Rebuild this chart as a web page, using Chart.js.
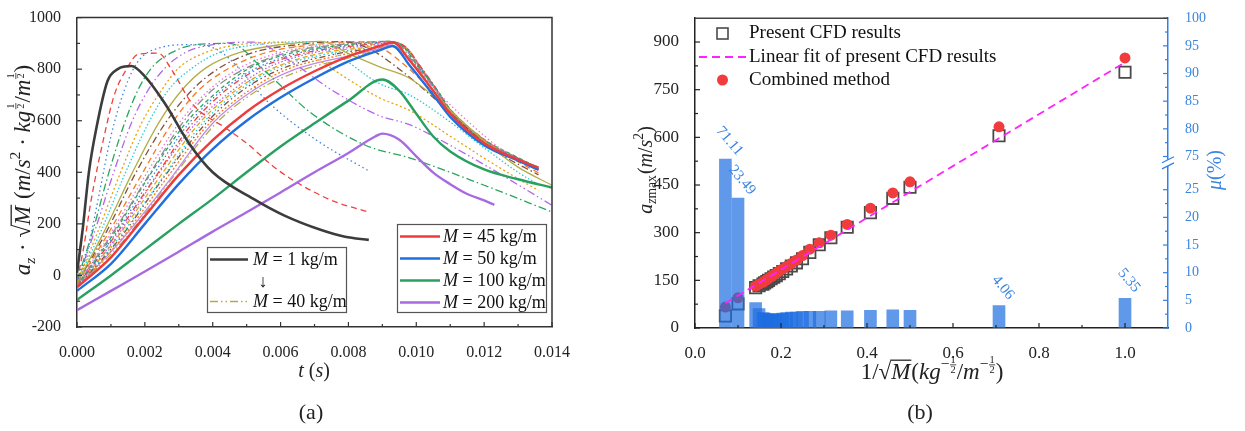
<!DOCTYPE html>
<html>
<head>
<meta charset="utf-8">
<script src="https://cdn.jsdelivr.net/npm/chart.js@4.4.0/dist/chart.umd.min.js"></script>
<style>
  html, body { margin: 0; padding: 0; background: #fff; }
  #wrap { position: relative; width: 1245px; height: 431px; overflow: hidden; }
  canvas { position: absolute; top: 0; }
  #chartA { left: 0; }
  #chartB { left: 620px; }
</style>
</head>
<body>
<div id="wrap">
  <canvas id="chartA" width="620" height="431"></canvas>
  <canvas id="chartB" width="625" height="431"></canvas>
</div>
<script>
// ---------- panel (a): a_z * sqrt(M) time histories, pairs of [t (s), value] ----------
const m1 = [[0,10],[0.00017,182],[0.00035,400],[0.00056,564],[0.0009,754],[0.0012,800],[0.0016,812],[0.002,772],[0.0026,665],[0.0033,513],[0.004,400],[0.0052,297],[0.0061,233],[0.0072,176],[0.0079,150],[0.0086,138]];
const m2 = [[0,-20],[0.0002,110],[0.0004,280],[0.0008,540],[0.0011,700],[0.00146,800],[0.0018,858],[0.0024,862],[0.0028,795],[0.0034,666],[0.0044,570],[0.005,513],[0.0059,411],[0.0074,297],[0.0086,245]];
const m4 = [[0,-30],[0.0003,90],[0.0006,280],[0.001,540],[0.0014,720],[0.0018,830],[0.0025,885],[0.0033,895],[0.0041,878],[0.0048,800],[0.0055,690],[0.007,530],[0.0086,405]];
const m5 = [[0,-20],[0.00047,175],[0.00093,395],[0.0014,590],[0.0018,720],[0.0022,805],[0.0028,865],[0.0035,895],[0.0045,900],[0.0056,785],[0.0069,630],[0.0085,505],[0.0098,456],[0.0119,355],[0.014,246]];
const m6 = [[0,-20],[0.00053,175],[0.00107,395],[0.0016,590],[0.0021,720],[0.0026,805],[0.0032,865],[0.004,895],[0.0052,905],[0.0063,830],[0.0075,720],[0.0089,620],[0.0098,585],[0.0105,540],[0.012,430],[0.014,272]];
const m8 = [[0,-25],[0.00063,175],[0.00127,395],[0.0019,590],[0.0025,720],[0.003,805],[0.0038,865],[0.0048,895],[0.006,905],[0.007,845],[0.008,760],[0.0089,690],[0.0098,640],[0.011,540],[0.012,455],[0.013,375],[0.0136,330]];
const m10 = [[0,-25],[0.0007,170],[0.0014,390],[0.0021,590],[0.0027,720],[0.0034,805],[0.0042,865],[0.0053,895],[0.0066,906],[0.0076,860],[0.0089,745],[0.0098,700],[0.011,595],[0.012,495],[0.013,400],[0.0136,352]];
const m12 = [[0,-30],[0.0008,170],[0.0016,390],[0.0024,590],[0.0031,720],[0.0038,805],[0.0048,865],[0.006,895],[0.0072,908],[0.008,860],[0.0089,810],[0.0098,765],[0.011,640],[0.012,520],[0.013,420],[0.014,350]];
const m14 = [[0,-30],[0.00087,170],[0.0017,390],[0.0026,590],[0.0034,720],[0.0042,805],[0.0052,865],[0.0065,895],[0.0078,907],[0.0086,880],[0.0095,800],[0.0105,690],[0.0115,570],[0.0125,470],[0.0136,390]];
const m16 = [[0,-32],[0.00093,165],[0.0019,390],[0.0028,590],[0.0036,720],[0.0045,805],[0.0056,865],[0.007,895],[0.0083,907],[0.009,880],[0.0098,800],[0.0105,710],[0.0115,580],[0.0125,480],[0.0136,398]];
const m18 = [[0,-34],[0.001,165],[0.002,385],[0.003,590],[0.0039,720],[0.0048,805],[0.006,865],[0.0075,895],[0.0088,907],[0.0093,890],[0.0099,820],[0.0106,715],[0.0115,600],[0.0125,490],[0.0136,405]];
const m20 = [[0,-36],[0.00103,160],[0.0021,385],[0.0031,590],[0.004,720],[0.005,805],[0.0062,865],[0.0077,895],[0.0091,908],[0.0095,895],[0.0099,830],[0.0105,730],[0.011,640],[0.012,525],[0.013,455],[0.0136,420]];
const m22 = [[0,-38],[0.00107,160],[0.0021,380],[0.0032,590],[0.0042,720],[0.0051,805],[0.0064,865],[0.008,895],[0.0092,908],[0.0096,890],[0.01,820],[0.0106,722],[0.011,645],[0.012,528],[0.013,457],[0.0136,418]];
const m24 = [[0,-40],[0.0011,155],[0.0022,380],[0.0033,590],[0.0043,720],[0.0053,805],[0.0066,865],[0.0082,895],[0.0092,907],[0.0096,888],[0.01,818],[0.0106,720],[0.011,642],[0.012,525],[0.013,455],[0.0136,416]];
const m26 = [[0,-40],[0.00113,155],[0.0023,380],[0.0034,590],[0.0044,720],[0.0054,805],[0.0068,865],[0.0085,895],[0.0093,906],[0.0097,885],[0.0101,815],[0.0106,722],[0.011,643],[0.012,526],[0.013,454],[0.0136,414]];
const m28 = [[0,-42],[0.00117,150],[0.0023,375],[0.0035,590],[0.0046,720],[0.0056,805],[0.007,865],[0.0087,893],[0.0093,905],[0.0097,884],[0.0101,814],[0.0106,720],[0.011,640],[0.012,524],[0.013,453],[0.0136,413]];
const m30 = [[0,-42],[0.0012,150],[0.0024,375],[0.0036,590],[0.0047,720],[0.0058,805],[0.0072,862],[0.0088,890],[0.0093,904],[0.0097,883],[0.0101,813],[0.0106,719],[0.011,639],[0.012,523],[0.013,452],[0.0136,412]];
const m32 = [[0,-44],[0.00123,145],[0.0025,375],[0.0037,590],[0.0048,720],[0.0059,805],[0.0074,860],[0.0088,888],[0.0093,903],[0.0097,882],[0.0101,812],[0.0106,718],[0.011,638],[0.012,522],[0.013,451],[0.0136,411]];
const m34 = [[0,-44],[0.00127,145],[0.0025,370],[0.0038,590],[0.0049,720],[0.0061,805],[0.0076,858],[0.0089,887],[0.0093,902],[0.0097,881],[0.0101,811],[0.0106,717],[0.011,637],[0.012,521],[0.013,450],[0.0136,410]];
const m36 = [[0,-45],[0.0013,140],[0.0026,370],[0.0039,590],[0.0051,720],[0.0062,800],[0.0078,855],[0.0089,885],[0.0093,901],[0.0097,880],[0.0101,810],[0.0106,716],[0.011,636],[0.012,520],[0.013,449],[0.0136,409]];
const m38 = [[0,-46],[0.00133,140],[0.0027,365],[0.004,590],[0.0052,718],[0.0064,798],[0.008,852],[0.009,884],[0.0093,900],[0.0097,879],[0.0101,809],[0.0106,715],[0.011,635],[0.012,519],[0.013,448],[0.0136,408]];
const m40 = [[0,-47],[0.00137,135],[0.0027,360],[0.0041,590],[0.0053,716],[0.0066,795],[0.0082,850],[0.009,882],[0.0093,898],[0.0097,878],[0.0101,808],[0.0106,714],[0.011,634],[0.012,518],[0.013,447],[0.0136,407]];
const m45 = [[0,-46],[0.001,70],[0.002,230],[0.003,390],[0.004,525],[0.005,635],[0.006,722],[0.007,792],[0.008,850],[0.009,893],[0.0093,905],[0.0098,835],[0.0105,716],[0.011,627],[0.012,513],[0.013,449],[0.0136,418]];
const m50 = [[0,-60],[0.001,45],[0.002,200],[0.003,355],[0.004,490],[0.005,600],[0.006,690],[0.007,765],[0.008,830],[0.009,877],[0.0093,890],[0.0098,815],[0.0105,700],[0.011,615],[0.012,505],[0.013,445],[0.0136,410]];
const m100 = [[0,-95],[0.001,0],[0.002,100],[0.003,200],[0.004,297],[0.005,400],[0.006,500],[0.007,590],[0.008,678],[0.009,760],[0.0095,716],[0.01,627],[0.0105,539],[0.011,481],[0.012,411],[0.013,373],[0.014,341]];
const m200 = [[0,-135],[0.001,-60],[0.002,15],[0.003,92],[0.004,170],[0.005,245],[0.006,322],[0.007,400],[0.008,475],[0.0088,540],[0.009,550],[0.0095,526],[0.01,462],[0.0105,399],[0.011,354],[0.0115,316],[0.012,291],[0.0123,274]];

const fanSeries = [m1, m2, m4, m5, m6, m8, m10, m12, m14, m16, m18, m20, m22, m24, m26, m28, m30, m32, m34, m36, m38, m40];
const fanColors = ['#3c3c3c','#f0413c','#3d82e0','#2aa65c','#b565ea','#e6a310','#20d0dc','#b3ad45','#805040','#f57c20','#e87ad4',
                   '#8c8c8c','#2aa65c','#3d82e0','#f0413c','#b565ea','#e6a310','#20d0dc','#805040','#f57c20','#c08be8','#b3ad45'];
const fanDashes = [[], [6,4], [1.5,3], [8,3,1.5,3], [8,3,1.5,3,1.5,3], [2,2.5], [1.5,2], [], [7,3,1.5,3], [6,4], [1.5,2.5],
                   [8,3,1.5,3], [4,3], [1.5,2.5], [6,3,1.5,3], [1.5,2], [5,3], [1.5,2.5], [6,3,1.5,3,1.5,3], [2,2], [], [8,3,1.5,3,1.5,3]];
const bigSeries = [m45, m50, m100, m200];
const bigLabels = ['45', '50', '100', '200'];
const bigColors = ['#ee3b3b', '#1f6fe0', '#27a060', '#a86ae0'];

const aXTicks = [0, 0.002, 0.004, 0.006, 0.008, 0.010, 0.012, 0.014];
const aXMinor = [0.001, 0.003, 0.005, 0.007, 0.009, 0.011, 0.013];
const aYTicks = [-200, 0, 200, 400, 600, 800, 1000];
const aYMinor = [-100, 100, 300, 500, 700, 900];

// ---------- panel (b): peak acceleration vs 1/sqrt(M) ----------
const invSqrtM = [0.0707,0.1,0.141,0.149,0.158,0.162,0.167,0.171,0.177,0.183,0.189,0.196,0.204,0.213,0.224,0.236,0.25,0.267,0.289,0.316,0.354,0.408,0.46,0.5,0.707,1.0];
const cfdMax = [38,76,127,133,138,142,146,150,155,160,165,171,178,186,195,205,218,238,262,284,317,363,408,443,605,805];
const combinedMax = [66,95,132,138,144,148,152,156,161,167,173,179,186,194,203,214,228,248,268,292,326,377,425,460,633,850];
const muPct = [71.11,23.49,4.6,3.5,2.8,2.7,2.6,2.5,2.5,2.5,2.5,2.6,2.7,2.8,2.9,2.9,3.0,3.0,3.0,3.1,3.1,3.2,3.3,3.2,4.06,5.35];
const muLabelIdx = [0, 1, 24, 25];
const fitX = [0.0707, 1.0];
const fitY = [78, 836];

const bXTicks = [0, 0.2, 0.4, 0.6, 0.8, 1.0];
const bXMinor = [0.1, 0.3, 0.5, 0.7, 0.9];
const bYTicks = [0, 150, 300, 450, 600, 750, 900];
const bYMinor = [75, 225, 375, 525, 675, 825];
const muTicks = [0, 5, 10, 15, 20, 25, 75, 80, 85, 90, 95, 100];
const muMinor = [2.5, 7.5, 12.5, 17.5, 22.5, 77.5, 82.5, 87.5, 92.5, 97.5];

// right axis is broken between 25 and 75
function brokenAxis(v) {
  if (v <= 25) return v;
  if (v >= 75) return v - 44;
  return 25 + (v - 25) / 50 * 6;
}

const FONT = '"Liberation Serif", "Times New Roman", serif';
Chart.defaults.font.family = FONT;
Chart.defaults.color = '#222';

const toXY = arr => arr.map(([x, y]) => ({ x, y }));

// draws a row of text pieces (italic / sub / sup / overline / stacked fraction) centred on x,y
function drawRich(ctx, parts, x, y, size, angle, color) {
  ctx.save();
  ctx.translate(x, y);
  ctx.rotate(angle);
  ctx.fillStyle = color;
  ctx.strokeStyle = color;
  ctx.textBaseline = 'alphabetic';
  ctx.textAlign = 'left';
  const fontOf = (p, s) => `${p.i ? 'italic ' : ''}${s}px ${FONT}`;
  let total = 0;
  parts.forEach(p => {
    if (p.frac) {
      ctx.font = fontOf(p, size * 0.45);
      p.w = Math.max(ctx.measureText(p.frac[0]).width, ctx.measureText(p.frac[1]).width) + 2;
    } else {
      ctx.font = fontOf(p, (p.sub || p.sup) ? size * 0.68 : size);
      p.w = ctx.measureText(p.t).width + (p.pad || 0);
    }
    total += p.w;
  });
  let cx = -total / 2;
  const base = size * 0.33;
  parts.forEach(p => {
    if (p.frac) {
      const fs = size * 0.45;
      ctx.font = fontOf(p, fs);
      ctx.textAlign = 'center';
      const mid = base - size * 0.62;
      ctx.fillText(p.frac[0], cx + p.w / 2, mid - 1);
      ctx.fillText(p.frac[1], cx + p.w / 2, mid + fs * 0.8);
      ctx.lineWidth = 0.8;
      ctx.beginPath(); ctx.moveTo(cx + 0.5, mid + 0.5); ctx.lineTo(cx + p.w - 0.5, mid + 0.5); ctx.stroke();
      ctx.textAlign = 'left';
    } else {
      ctx.font = fontOf(p, (p.sub || p.sup) ? size * 0.68 : size);
      const dy = p.sub ? size * 0.22 : p.sup ? -size * 0.42 : 0;
      ctx.fillText(p.t, cx, base + dy);
      if (p.over) {
        ctx.lineWidth = size * 0.055;
        ctx.beginPath();
        ctx.moveTo(cx - 1, base - size * 0.8);
        ctx.lineTo(cx + p.w, base - size * 0.8);
        ctx.stroke();
      }
    }
    cx += p.w;
  });
  ctx.restore();
}

function drawLegendText(ctx, num, x, y) {
  ctx.font = `italic 18px ${FONT}`;
  ctx.fillStyle = '#111';
  ctx.textBaseline = 'middle';
  ctx.textAlign = 'left';
  ctx.fillText('M', x, y);
  const w = ctx.measureText('M').width;
  ctx.font = `18px ${FONT}`;
  ctx.fillText(` = ${num} kg/m`, x + w, y);
}

function drawInnerTicks(chart, axisId, major, minor, side, color) {
  const ctx = chart.ctx, a = chart.chartArea, s = chart.scales[axisId];
  ctx.save();
  ctx.strokeStyle = color;
  ctx.lineWidth = 1.2;
  const draw = (vals, len) => vals.forEach(v => {
    const p = s.getPixelForValue(v);
    ctx.beginPath();
    if (side === 'bottom') { ctx.moveTo(p, a.bottom); ctx.lineTo(p, a.bottom - len); }
    if (side === 'left') { ctx.moveTo(a.left, p); ctx.lineTo(a.left + len, p); }
    if (side === 'right') { ctx.moveTo(a.right, p); ctx.lineTo(a.right - len, p); }
    ctx.stroke();
  });
  draw(major, 5);
  draw(minor, 3);
  ctx.restore();
}

// ---------- chart (a) ----------
const datasetsA = fanSeries.map((d, i) => ({
  data: toXY(d),
  borderColor: fanColors[i],
  borderDash: fanDashes[i],
  borderWidth: i === 0 ? 2.6 : 1.3,
  order: i === 0 ? 0 : 2
})).concat(bigSeries.map((d, i) => ({
  data: toXY(d),
  borderColor: bigColors[i],
  borderDash: [],
  borderWidth: 2.4,
  order: 1
})));

const panelA = {
  id: 'panelA',
  afterDraw(chart) {
    const ctx = chart.ctx, a = chart.chartArea;
    drawInnerTicks(chart, 'x', aXTicks, aXMinor, 'bottom', '#333');
    drawInnerTicks(chart, 'y', aYTicks, aYMinor, 'left', '#333');
    ctx.save();
    ctx.strokeStyle = '#333';
    ctx.lineWidth = 1.5;
    ctx.beginPath();
    ctx.moveTo(a.left, a.top); ctx.lineTo(a.right, a.top); ctx.lineTo(a.right, a.bottom);
    ctx.stroke();

    // legend box 1
    ctx.fillStyle = '#fff';
    ctx.fillRect(207, 247, 139, 65);
    ctx.strokeStyle = '#555'; ctx.lineWidth = 1.2;
    ctx.strokeRect(207.5, 247.5, 139, 65);
    ctx.lineWidth = 2.6; ctx.strokeStyle = fanColors[0]; ctx.setLineDash([]);
    ctx.beginPath(); ctx.moveTo(210, 259.5); ctx.lineTo(248, 259.5); ctx.stroke();
    drawLegendText(ctx, '1', 253, 260);
    ctx.font = `18px ${FONT}`; ctx.fillStyle = '#111'; ctx.textAlign = 'center';
    ctx.fillText('↓', 263, 282);
    ctx.lineWidth = 1.3; ctx.strokeStyle = fanColors[21]; ctx.setLineDash(fanDashes[21]);
    ctx.beginPath(); ctx.moveTo(210, 301.5); ctx.lineTo(248, 301.5); ctx.stroke();
    ctx.setLineDash([]);
    drawLegendText(ctx, '40', 253, 302);

    // legend box 2
    ctx.fillStyle = '#fff';
    ctx.fillRect(397, 224, 149, 88);
    ctx.strokeStyle = '#555'; ctx.lineWidth = 1.2;
    ctx.strokeRect(397.5, 224.5, 149, 88);
    bigLabels.forEach((lab, i) => {
      const y = 236.5 + i * 22;
      ctx.strokeStyle = bigColors[i]; ctx.lineWidth = 2.6;
      ctx.beginPath(); ctx.moveTo(400, y); ctx.lineTo(440, y); ctx.stroke();
      drawLegendText(ctx, lab, 443, y + 0.5);
    });

    // axis titles
    drawRich(ctx, [{ t: 't', i: 1 }, { t: ' (' }, { t: 's', i: 1 }, { t: ')' }], 314, 370, 20, 0, '#222');
    drawRich(ctx, [{ t: '(a)' }], 311, 412, 22, 0, '#222');
    drawRich(ctx, [
      { t: 'a', i: 1 }, { t: 'z', i: 1, sub: 1, pad: 1 }, { t: ' · ' }, { t: '√' }, { t: 'M', i: 1, over: 1, pad: 1 },
      { t: ' (' }, { t: 'm', i: 1 }, { t: '/' }, { t: 's', i: 1 }, { t: '2', sup: 1 }, { t: ' · ' },
      { t: 'kg', i: 1, pad: 1 }, { frac: ['1', '2'] }, { t: '/' }, { t: 'm', i: 1 }, { frac: ['1', '2'] }, { t: ')' }
    ], 22, 170, 23, -Math.PI / 2, '#222');
    ctx.restore();
  }
};

new Chart(document.getElementById('chartA'), {
  type: 'line',
  data: { datasets: datasetsA },
  options: {
    responsive: false,
    animation: false,
    events: [],
    layout: { padding: { left: 0, right: 68, top: 12, bottom: 0 } },
    plugins: { legend: { display: false }, tooltip: { enabled: false } },
    elements: { point: { radius: 0 }, line: { cubicInterpolationMode: 'monotone', fill: false } },
    scales: {
      x: {
        type: 'linear', min: 0, max: 0.014,
        grid: { display: false },
        border: { color: '#333', width: 1.5 },
        ticks: { font: { size: 16 }, color: '#222', padding: 8, autoSkip: false, maxRotation: 0, callback: v => v.toFixed(3) },
        afterBuildTicks: s => { s.ticks = aXTicks.map(v => ({ value: v })); },
        afterFit: s => { s.height = 104; }
      },
      y: {
        type: 'linear', min: -200, max: 1000,
        grid: { display: false },
        border: { color: '#333', width: 1.5 },
        ticks: { font: { size: 16 }, color: '#222', padding: 8, autoSkip: false, callback: v => String(v) },
        afterBuildTicks: s => { s.ticks = aYTicks.map(v => ({ value: v })); },
        afterFit: s => { s.width = 77; }
      }
    }
  },
  plugins: [panelA]
});

// ---------- chart (b) ----------
const panelB = {
  id: 'panelB',
  afterDatasetsDraw(chart) {
    const ctx = chart.ctx;
    const meta = chart.getDatasetMeta(1);
    muLabelIdx.forEach(idx => {
      const bar = meta.data[idx];
      ctx.save();
      ctx.translate(bar.x + 4, bar.y - 18);
      ctx.rotate(50 * Math.PI / 180);
      ctx.font = `15px ${FONT}`;
      ctx.fillStyle = '#3a85e0';
      ctx.textAlign = 'center';
      ctx.textBaseline = 'middle';
      ctx.fillText(muPct[idx].toFixed(2), 0, 0);
      ctx.restore();
    });
  },
  afterDraw(chart) {
    const ctx = chart.ctx, a = chart.chartArea, y2 = chart.scales.y2;
    drawInnerTicks(chart, 'x', bXTicks, bXMinor, 'bottom', '#222');
    drawInnerTicks(chart, 'y', bYTicks, bYMinor, 'left', '#222');
    drawInnerTicks(chart, 'y2', muTicks.map(brokenAxis), muMinor.map(brokenAxis), 'right', '#2f80e8');
    ctx.save();
    ctx.strokeStyle = '#444';
    ctx.lineWidth = 1.5;
    ctx.beginPath(); ctx.moveTo(a.left, a.top); ctx.lineTo(a.right, a.top); ctx.stroke();

    // axis break marks
    const yb1 = y2.getPixelForValue(30.4), yb2 = y2.getPixelForValue(29.3);
    ctx.fillStyle = '#fff';
    ctx.fillRect(a.right - 2, yb1, 4, yb2 - yb1);
    ctx.strokeStyle = '#2f80e8'; ctx.lineWidth = 1.2;
    [yb1, yb2].forEach(yb => {
      ctx.beginPath(); ctx.moveTo(a.right - 6, yb + 3); ctx.lineTo(a.right + 6, yb - 3); ctx.stroke();
    });

    // legend (canvas coordinates, canvas starts at page x = 620)
    ctx.strokeStyle = '#4a4a4a'; ctx.lineWidth = 1.6;
    ctx.strokeRect(97, 28, 11, 11);
    ctx.strokeStyle = '#ff22ff'; ctx.lineWidth = 1.8; ctx.setLineDash([8, 5]);
    ctx.beginPath(); ctx.moveTo(79, 57); ctx.lineTo(127, 57); ctx.stroke();
    ctx.setLineDash([]);
    ctx.fillStyle = '#f03c3c';
    ctx.beginPath(); ctx.arc(102.5, 80, 5.5, 0, Math.PI * 2); ctx.fill();
    ctx.fillStyle = '#111'; ctx.font = `19px ${FONT}`; ctx.textBaseline = 'middle'; ctx.textAlign = 'left';
    ctx.fillText('Present CFD results', 129, 33);
    ctx.fillText('Linear fit of present CFD results', 129, 57);
    ctx.fillText('Combined method', 129, 80);

    // axis titles
    drawRich(ctx, [
      { t: '1/' }, { t: '√' }, { t: 'M', i: 1, over: 1, pad: 1 }, { t: '(' }, { t: 'kg', i: 1 }, { t: '−', sup: 1 }, { frac: ['1', '2'] },
      { t: '/' }, { t: 'm', i: 1 }, { t: '−', sup: 1 }, { frac: ['1', '2'] }, { t: ')' }
    ], 312, 371, 23, 0, '#222');
    drawRich(ctx, [{ t: '(b)' }], 300, 412, 22, 0, '#222');
    drawRich(ctx, [
      { t: 'a', i: 1 }, { t: 'z', i: 1, sub: 1 }, { t: 'max', sub: 1, pad: 1 }, { t: '(' }, { t: 'm', i: 1 }, { t: '/' },
      { t: 's', i: 1 }, { t: '2', sup: 1 }, { t: ')' }
    ], 25, 170, 20, -Math.PI / 2, '#222');
    drawRich(ctx, [{ t: 'μ', i: 1 }, { t: '(%)' }], 594, 170, 20, -Math.PI / 2, '#3a85e0');
    ctx.restore();
  }
};

new Chart(document.getElementById('chartB'), {
  type: 'scatter',
  data: {
    datasets: [
      {
        type: 'line',
        data: fitX.map((x, i) => ({ x, y: fitY[i] })),
        borderColor: '#ff22ff', borderDash: [8, 5], borderWidth: 1.8,
        pointRadius: 0, yAxisID: 'y', order: 0
      },
      {
        type: 'bar',
        data: invSqrtM.map((x, i) => ({ x, y: brokenAxis(muPct[i]) })),
        backgroundColor: 'rgba(30,110,225,0.7)', borderWidth: 0,
        barThickness: 12, yAxisID: 'y2', order: 1
      },
      {
        data: invSqrtM.map((x, i) => ({ x, y: combinedMax[i] })),
        pointStyle: 'circle', pointRadius: 5.5, backgroundColor: '#f03c3c', borderWidth: 0,
        yAxisID: 'y', order: 2
      },
      {
        data: invSqrtM.map((x, i) => ({ x, y: cfdMax[i] })),
        pointStyle: 'rect', pointRadius: 8, backgroundColor: 'rgba(0,0,0,0)',
        borderColor: '#4a4a4a', borderWidth: 1.8, yAxisID: 'y', order: 3
      }
    ]
  },
  options: {
    responsive: false,
    animation: false,
    events: [],
    layout: { padding: { left: 0, right: 0, top: 12, bottom: 0 } },
    plugins: { legend: { display: false }, tooltip: { enabled: false } },
    scales: {
      x: {
        type: 'linear', min: 0, max: 1.1, offset: false,
        grid: { display: false, offset: false },
        border: { color: '#222', width: 1.5 },
        ticks: { font: { size: 17 }, color: '#222', padding: 7, autoSkip: false, maxRotation: 0, callback: v => v.toFixed(1) },
        afterBuildTicks: s => { s.ticks = bXTicks.map(v => ({ value: v })); },
        afterFit: s => { s.height = 103; }
      },
      y: {
        type: 'linear', position: 'left', min: 0, max: 975,
        grid: { display: false },
        border: { color: '#222', width: 1.5 },
        ticks: { font: { size: 17 }, color: '#222', padding: 8, autoSkip: false, callback: v => String(v) },
        afterBuildTicks: s => { s.ticks = bYTicks.map(v => ({ value: v })); },
        afterFit: s => { s.width = 75; }
      },
      y2: {
        type: 'linear', position: 'right', min: 0, max: 56,
        grid: { display: false },
        border: { color: '#2f80e8', width: 1.5 },
        ticks: { font: { size: 14 }, color: '#3a85e0', padding: 9, autoSkip: false, callback: (v, i) => muTicks[i] },
        afterBuildTicks: s => { s.ticks = muTicks.map(v => ({ value: brokenAxis(v) })); },
        afterFit: s => { s.width = 77; }
      }
    }
  },
  plugins: [panelB]
});
</script>
</body>
</html>
